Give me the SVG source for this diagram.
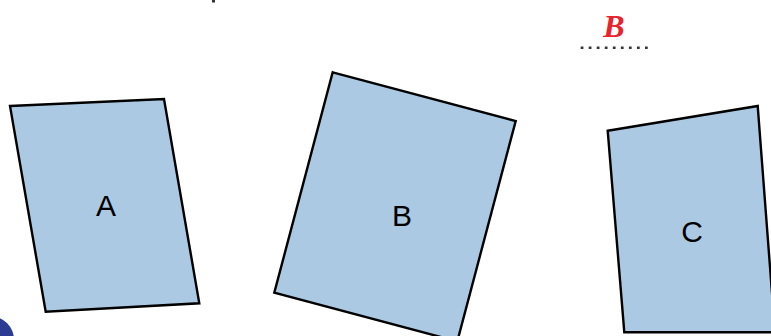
<svg xmlns="http://www.w3.org/2000/svg" width="771" height="336" viewBox="0 0 771 336">
<style>
.card{fill:#abc9e3;stroke:#000;stroke-width:2.4;stroke-linejoin:miter}
.lbl{font-family:"Liberation Sans",Arial,sans-serif;font-size:30px;fill:#000;text-anchor:middle}
</style>
<rect width="771" height="336" fill="#fff"/>
<rect x="212" y="0" width="3" height="2.5" fill="#333"/>
<g id="mark">
<text x="614" y="37" font-family="'Liberation Serif',serif" font-style="italic" font-weight="bold" font-size="32" fill="#e8232b" text-anchor="middle">B</text>
<line x1="580.7" y1="47.8" x2="648" y2="47.8" stroke="#333" stroke-width="2.6" stroke-dasharray="2.7 5.34"/>
</g>
<g id="nodeA">
<polygon class="card" points="10,106 164,99 199.3,303.3 45.7,311.7"/>
<text class="lbl" x="106" y="216">A</text>
</g>
<g id="nodeB">
<polygon class="card" points="332.7,72.3 515.7,121 457.3,341.4 274.3,292.7"/>
<text class="lbl" x="402" y="226">B</text>
</g>
<g id="nodeC">
<polygon class="card" points="607.7,130.7 757.7,106 775,332.3 624.3,332.3"/>
<text class="lbl" x="692" y="242">C</text>
</g>
<g id="connectors"></g>
<circle cx="-10" cy="340" r="24" fill="#2b3d92"/>
</svg>
